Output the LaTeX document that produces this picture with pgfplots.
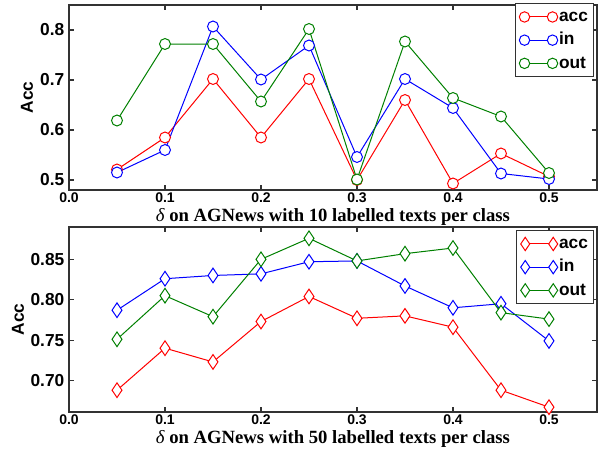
\documentclass[border=0pt]{standalone}
\usepackage{pgfplots}
\pgfplotsset{compat=1.18}
\usepackage{fontspec}
\setmainfont{Liberation Serif}
\newfontfamily\arial{Liberation Sans}
\definecolor{mgreen}{RGB}{0,128,0}
\definecolor{axgray}{RGB}{50,50,50}
\begin{document}
\begin{tikzpicture}[x=1pt,y=1pt]
\path[use as bounding box] (0,0) rectangle (450,-337.5);
\pgfplotsset{
  common/.style={
    scale only axis, width=396pt, height=138.75pt,
    xmin=0, xmax=0.55,
    xtick={0,0.1,0.2,0.3,0.4,0.5},
    axis line style={axgray, line width=1pt},
    tick style={axgray, line width=0.8pt},
    major tick length=3.75pt,
    tick align=inside,
    xticklabel style={font=\arial\bfseries\fontsize{10.5}{12}\selectfont, inner sep=2pt,
      /pgf/number format/.cd, fixed, fixed zerofill, precision=1, assume math mode=true},
    yticklabel style={font=\arial\bfseries\fontsize{13}{15}\selectfont},
    ylabel={Acc},
    ylabel style={font=\arial\bfseries\fontsize{13}{15}\selectfont, anchor=center},
    xlabel style={font=\bfseries\fontsize{14}{16}\selectfont, at={(axis description cs:0.5,-0.17)}, anchor=base},
    legend style={at={(axis description cs:0.9943,1.011)}, anchor=north east,
      draw=axgray, line width=1pt, fill=white, inner sep=3pt,
      font=\arial\bfseries\fontsize{13}{15}\selectfont,
      nodes={inner sep=1pt, text height=9.5pt, text depth=2.5pt},
      row sep=3.4pt},
    legend cell align=left,
    every axis plot/.append style={line width=0.75pt},
  }
}
\begin{axis}[common, at={(51.75pt,-142.5pt)}, anchor=south west,
  ymin=0.48, ymax=0.85, ytick={0.5,0.6,0.7,0.8},
  yticklabel style={/pgf/number format/.cd, fixed, fixed zerofill, precision=1, assume math mode=true},
  ylabel style={at={(axis description cs:-0.0795,0.5)}},
  xlabel={{\mdseries\itshape δ} on AGNews with 10 labelled texts per class},
  legend image code/.code={
    \draw[mark repeat=2, mark phase=1, #1, mark size=3.9pt] plot coordinates {(0pt,0pt) (10.5pt,0pt) (21pt,0pt)};
  },
  mark size=4.1pt]
\addplot[red, mark=*, mark options={fill=white, solid}] coordinates {(0.05,0.521)(0.1,0.585)(0.15,0.702)(0.2,0.585)(0.25,0.702)(0.3,0.500)(0.35,0.660)(0.4,0.493)(0.45,0.553)(0.5,0.507)};
\addlegendentry{acc}
\addplot[blue, mark=*, mark options={fill=white, solid}] coordinates {(0.05,0.515)(0.1,0.560)(0.15,0.807)(0.2,0.701)(0.25,0.769)(0.3,0.546)(0.35,0.702)(0.4,0.644)(0.45,0.513)(0.5,0.502)};
\addlegendentry{in}
\addplot[mgreen, mark=*, mark options={fill=white, solid}] coordinates {(0.05,0.619)(0.1,0.772)(0.15,0.772)(0.2,0.657)(0.25,0.802)(0.3,0.501)(0.35,0.777)(0.4,0.664)(0.45,0.627)(0.5,0.514)};
\addlegendentry{out}
\end{axis}
\begin{axis}[common, at={(51.75pt,-309pt)}, anchor=south west,
  ymin=0.661, ymax=0.89, ytick={0.70,0.75,0.80,0.85},
  yticklabel style={/pgf/number format/.cd, fixed, fixed zerofill, precision=2, assume math mode=true},
  ylabel style={at={(axis description cs:-0.0966,0.5)}},
  xlabel={{\mdseries\itshape δ} on AGNews with 50 labelled texts per class},
  legend style={at={(axis description cs:0.9943,0.984)}},
  legend image code/.code={
    \draw[mark repeat=2, mark phase=1, #1, mark size=5pt] plot coordinates {(0pt,0pt) (10.5pt,0pt) (21pt,0pt)};
  },
  mark size=5.5pt]
\addplot[red, mark=diamond*, mark options={fill=white, solid, xscale=0.9}] coordinates {(0.05,0.688)(0.1,0.740)(0.15,0.723)(0.2,0.773)(0.25,0.804)(0.3,0.777)(0.35,0.780)(0.4,0.766)(0.45,0.688)(0.5,0.667)};
\addlegendentry{acc}
\addplot[blue, mark=diamond*, mark options={fill=white, solid, xscale=0.9}] coordinates {(0.05,0.787)(0.1,0.826)(0.15,0.830)(0.2,0.832)(0.25,0.847)(0.3,0.848)(0.35,0.817)(0.4,0.790)(0.45,0.795)(0.5,0.749)};
\addlegendentry{in}
\addplot[mgreen, mark=diamond*, mark options={fill=white, solid, xscale=0.9}] coordinates {(0.05,0.751)(0.1,0.805)(0.15,0.779)(0.2,0.850)(0.25,0.876)(0.3,0.848)(0.35,0.857)(0.4,0.864)(0.45,0.784)(0.5,0.776)};
\addlegendentry{out}
\end{axis}
\end{tikzpicture}
\end{document}
